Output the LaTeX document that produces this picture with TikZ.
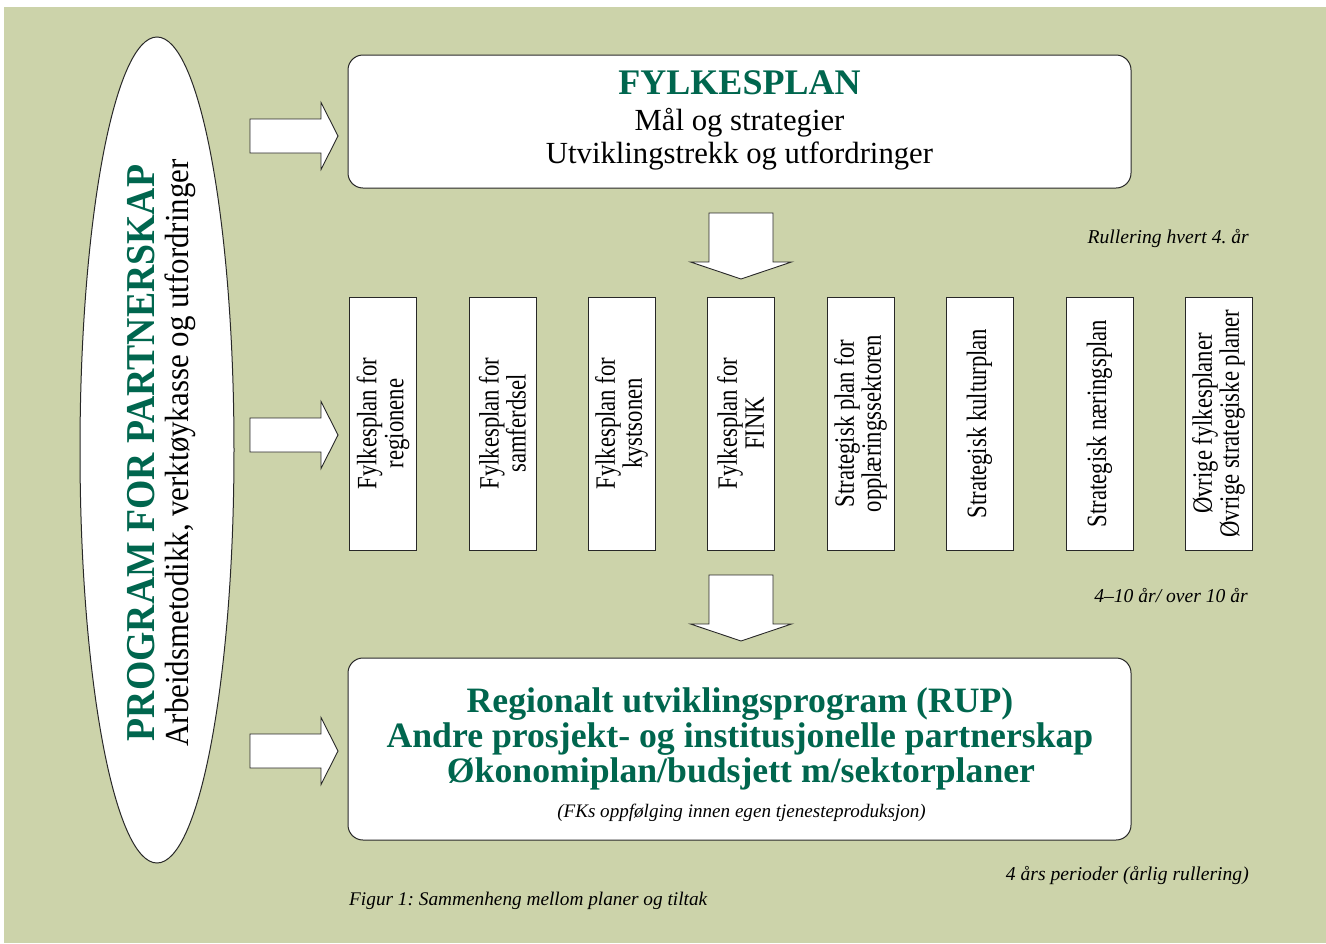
\documentclass[tikz,border=0pt]{standalone}
\usepackage{fontspec}
\setmainfont{Liberation Serif}
\newfontfamily\boxfont[FakeStretch=0.81]{Liberation Serif}
\newfontfamily\ellfont[FakeStretch=0.92]{Liberation Serif}
\usetikzlibrary{shapes.geometric}
\definecolor{bg}{RGB}{204,211,170}
\definecolor{dg}{RGB}{0,102,78}
\definecolor{ln}{RGB}{40,40,40}
\frenchspacing
\begin{document}
\begin{tikzpicture}[x=1pt,y=-1pt,
  blockarr/.style={draw=ln, fill=white, line width=0.9pt, line join=miter},
  mainbox/.style={draw=ln, fill=white, line width=1pt, rounded corners=15pt,
    minimum width=783pt, inner sep=0pt},
  vbox/.style={draw=ln, fill=white, line width=1pt, rotate=90,
    minimum width=253pt, minimum height=67pt, inner sep=0pt, align=center,
    font=\boxfont\fontsize{28}{27}\selectfont},
  txt/.style={inner sep=0pt, anchor=base},
  note/.style={inner sep=0pt, anchor=base east, font=\itshape\fontsize{19.6}{22}\selectfont},
  rarrow/.pic={\draw[blockarr] (0,-17) -- (71,-17) -- (71,-33.5) -- (88,0) -- (71,33.5) -- (71,17) -- (0,17) -- cycle;},
  darrow/.pic={\draw[blockarr] (-32,0) -- (32,0) -- (32,49) -- (50.5,49) -- (0,66) -- (-50.5,49) -- (-32,49) -- cycle;}
]
\useasboundingbox (0,0) rectangle (1326,943);
\fill[white] (0,0) rectangle (1326,943);
\fill[bg] (4,7) rectangle (1326,943);

% ellipse
\node[draw=ln, fill=white, ellipse, line width=1pt, minimum width=154pt, minimum height=826pt, inner sep=0pt] (prog) at (157,450) {};
\node[rotate=90, align=center, inner sep=0pt, font=\ellfont\fontsize{33.6}{34}\selectfont] (progtxt) at (162,453)
  {{\bfseries\color{dg}\fontsize{41}{34}\selectfont PROGRAM FOR PARTNERSKAP}\\Arbeidsmetodikk, verktøykasse og utfordringer};

% block arrows from ellipse
\pic at (250,136) {rarrow};
\pic at (250,435) {rarrow};
\pic at (250,751) {rarrow};

% top box
\node[mainbox, minimum height=133pt] (top) at (739.5,121.5) {};
\node[txt, text=dg, font=\bfseries\fontsize{36}{40}\selectfont] (t1) at (739.5,94) {FYLKESPLAN};
\node[txt, font=\fontsize{30.7}{34}\selectfont] (t2) at (739.5,130) {Mål og strategier};
\node[txt, font=\fontsize{30.7}{34}\selectfont] (t3) at (739.5,163) {Utviklingstrekk og utfordringer};

\pic at (741,213) {darrow};
\node[note] (n1) at (1249,243) {Rullering hvert 4. år};

% vertical boxes
\node[vbox] (b1) at (383,423.5) {Fylkesplan for\\regionene};
\node[vbox] (b2) at (502.5,423.5) {Fylkesplan for\\samferdsel};
\node[vbox] (b3) at (621.5,423.5) {Fylkesplan for\\kystsonen};
\node[vbox] (b4) at (740.5,423.5) {Fylkesplan for\\FINK};
\node[vbox] (b5) at (860.5,423.5) {Strategisk plan for\\opplæringssektoren};
\node[vbox] (b6) at (979.5,423.5) {Strategisk kulturplan};
\node[vbox] (b7) at (1099.5,423.5) {Strategisk næringsplan};
\node[vbox] (b8) at (1218.5,423.5) {Øvrige fylkesplaner\\Øvrige strategiske planer};

\pic at (741,575) {darrow};
\node[note] (n2) at (1248,602) {4–10 år/ over 10 år};

% bottom box
\node[mainbox, minimum height=182pt] (bot) at (739.5,749) {};
\node[txt, text=dg, font=\bfseries\fontsize{35.7}{40}\selectfont] (r1) at (740,712) {Regionalt utviklingsprogram (RUP)};
\node[txt, text=dg, font=\bfseries\fontsize{35.7}{40}\selectfont] (r2) at (740,747) {Andre prosjekt- og institusjonelle partnerskap};
\node[txt, text=dg, font=\bfseries\fontsize{35.7}{40}\selectfont] (r3) at (741,782) {Økonomiplan/budsjett m/sektorplaner};
\node[txt, font=\itshape\fontsize{19.1}{22}\selectfont] (r4) at (741.5,817) {(FKs oppfølging innen egen tjenesteproduksjon)};

\node[note] (n3) at (1249,880) {4 års perioder (årlig rullering)};
\node[txt, anchor=base west, font=\itshape\fontsize{19.3}{22}\selectfont] (cap) at (349,905) {Figur 1: Sammenheng mellom planer og tiltak};
\end{tikzpicture}
\end{document}
